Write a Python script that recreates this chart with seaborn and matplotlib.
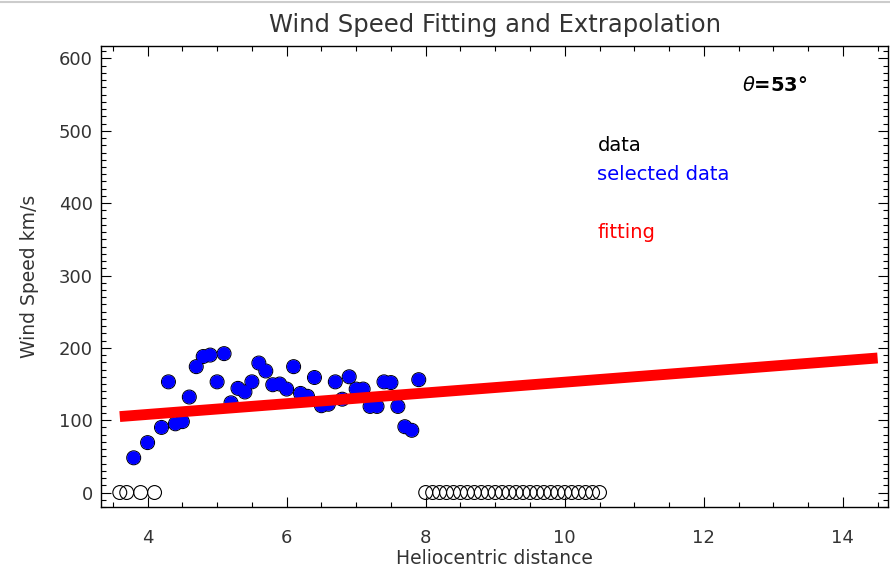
# plot.py
# Wind speed fitting and extrapolation chart.

import numpy as np
import pandas as pd
import matplotlib
matplotlib.use("Agg")
import matplotlib.pyplot as plt
import matplotlib.ticker as ticker
from matplotlib.lines import Line2D
import seaborn as sns


# Data

# selected points (blue)
selected_x = [3.8, 4.0, 4.2, 4.3, 4.4, 4.5, 4.6, 4.7, 4.8, 4.9,
              5.0, 5.1, 5.2, 5.3, 5.4, 5.5, 5.6, 5.7, 5.8, 5.9,
              6.0, 6.1, 6.2, 6.3, 6.4, 6.5, 6.6, 6.7, 6.8, 6.9,
              7.0, 7.1, 7.2, 7.3, 7.4, 7.5, 7.6, 7.7, 7.8, 7.9]
selected_v = [48, 69, 90, 153, 95, 98, 132, 174, 188, 190,
              153, 192, 124, 144, 139, 153, 179, 168, 149, 150,
              143, 174, 137, 133, 159, 120, 122, 153, 129, 160,
              143, 143, 119, 119, 153, 152, 119, 91, 86, 156]

# rejected points sitting at zero (open circles)
zero_x = [3.6, 3.7, 3.9, 4.1,
          8.0, 8.1, 8.2, 8.3, 8.4, 8.5, 8.6, 8.7, 8.8, 8.9,
          9.0, 9.1, 9.2, 9.3, 9.4, 9.5, 9.6, 9.7, 9.8, 9.9,
          10.0, 10.1, 10.2, 10.3, 10.4, 10.5]
zero_v = [0] * len(zero_x)

# linear fit, end points
fit_x = [3.6, 14.5]
fit_v = [105, 186]

data_df = pd.DataFrame({"x": selected_x + zero_x, "v": selected_v + zero_v})
sel_df = pd.DataFrame({"x": selected_x, "v": selected_v})
fit_df = pd.DataFrame({"x": fit_x, "v": fit_v})


# Style

sns.set_theme(style="white")
plt.rcParams["font.family"] = ["DejaVu Sans"]

TEXT = "#333333"

fig = plt.figure(figsize=(8.9, 5.71), dpi=100)
ax = fig.add_axes([0.1135, 0.1121, 0.8843, 0.807])

# all data as open black circles (gives the dark rim round the blue dots)
sns.scatterplot(data=data_df, x="x", y="v", ax=ax, s=100,
                facecolor="none", edgecolor="black", linewidth=0.8,
                zorder=2, legend=False)

sns.scatterplot(data=sel_df, x="x", y="v", ax=ax, s=90,
                color="#0000ff", edgecolor="none", linewidth=0,
                zorder=3, legend=False)

sns.lineplot(data=fit_df, x="x", y="v", ax=ax, color="#ff0000",
             linewidth=7.8, solid_capstyle="butt", zorder=4, legend=False)

ax.set_xlim(3.33, 14.65)
ax.set_ylim(-20, 617)
ax.xaxis.set_major_locator(ticker.MultipleLocator(2))
ax.xaxis.set_minor_locator(ticker.MultipleLocator(0.5))
ax.yaxis.set_major_locator(ticker.MultipleLocator(100))
ax.yaxis.set_minor_locator(ticker.MultipleLocator(10))

ax.tick_params(which="both", direction="in", top=True, right=True,
               bottom=True, left=True, color="black", width=0.8)
ax.tick_params(which="major", length=7.5, labelsize=13, labelcolor=TEXT)
ax.tick_params(which="minor", length=3.8)
ax.tick_params(axis="x", which="major", pad=16)
ax.tick_params(axis="y", which="major", pad=6)

for side in ax.spines.values():
    side.set_color("black")
    side.set_linewidth(1.0)

ax.set_title("Wind Speed Fitting and Extrapolation", fontsize=17.5,
             color=TEXT, pad=10)
ax.set_xlabel("Heliocentric distance", fontsize=13.5, color=TEXT, labelpad=1)
ax.set_ylabel("Wind Speed km/s", fontsize=13.5, color=TEXT, labelpad=14)

# legend-like annotations
ax.text(10.47, 480, "data", color="black", fontsize=14, va="center")
ax.text(10.47, 440, "selected data", color="#0000ff", fontsize=14, va="center")
ax.text(10.47, 360, "fitting", color="#ff0000", fontsize=14, va="center")
ax.text(12.55, 563, r"$\theta$=53°", color="black", fontsize=14,
        fontweight="bold", va="center")

# faint screenshot border at the top
fig.add_artist(Line2D([0, 1], [0.996, 0.996], color="#cccccc", linewidth=1.5))

fig.savefig("out.png", dpi=100)
